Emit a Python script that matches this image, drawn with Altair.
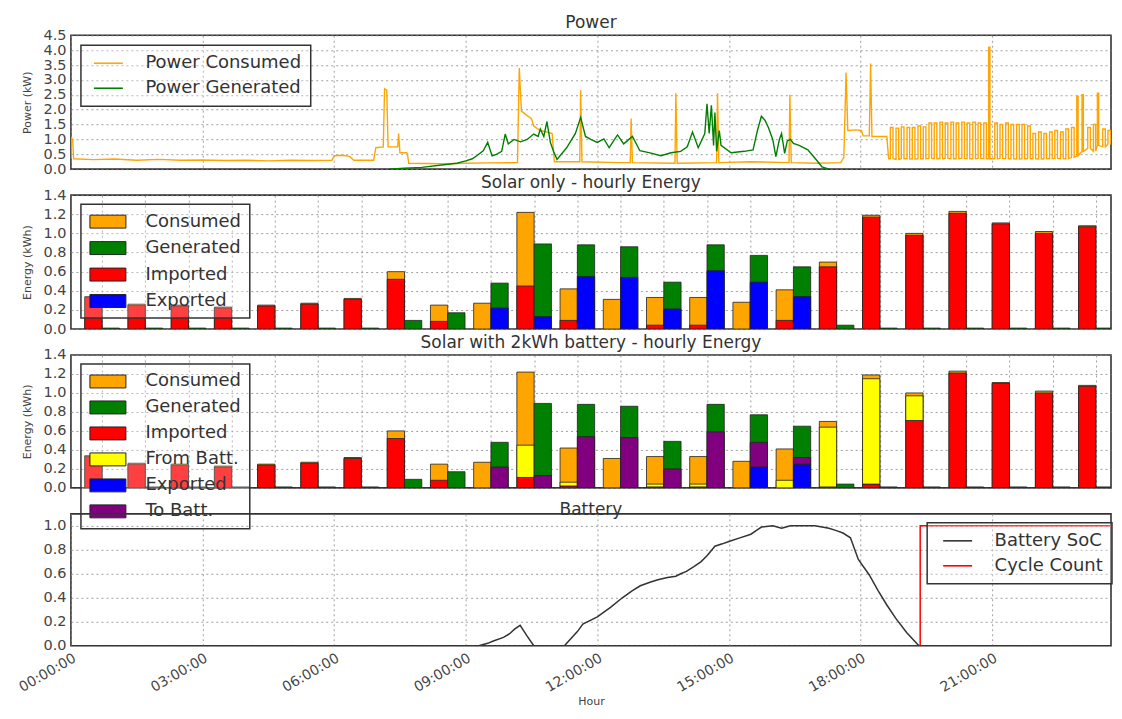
import altair as alt
import pandas as pd

X_MAX = 23.71          # hours shown on the time panels
BAR_DOMAIN = [-0.72, 23.35]
W = 1041

# ---------------- Panel 1 : Power ----------------
cons_t = [0.00, 0.01, 0.04, 0.06, 0.50, 1.00, 1.50, 2.00, 2.50, 3.00, 3.50, 4.00, 4.50, 5.00,
          5.50, 5.95, 6.00, 6.20, 6.35, 6.45, 6.90, 6.95, 7.12, 7.15, 7.20, 7.23, 7.45, 7.47,
          7.50, 7.65, 7.67, 7.70, 8.50, 9.00, 9.50, 10.18, 10.22, 10.27, 10.40, 10.50, 10.55,
          10.70, 10.85, 10.97, 11.02, 11.60, 11.62, 11.65, 12.50, 12.75, 12.77, 12.80, 13.77,
          13.79, 13.82, 14.72, 14.74, 14.77, 15.50, 16.37, 16.39, 16.42, 17.00, 17.55, 17.62,
          17.67, 17.71, 17.90, 18.02, 18.06, 18.20, 18.23, 18.26, 18.60, 18.64]
cons_v = [0.35, 1.05, 1.00, 0.35, 0.32, 0.34, 0.30, 0.33, 0.30, 0.31, 0.29, 0.30, 0.28, 0.30,
          0.29, 0.30, 0.45, 0.47, 0.43, 0.30, 0.30, 0.72, 0.75, 2.70, 2.65, 0.75, 0.75, 1.20,
          0.55, 0.55, 0.52, 0.20, 0.18, 0.20, 0.21, 0.22, 3.40, 1.95, 1.80, 1.70, 1.45,
          1.30, 1.25, 1.20, 0.25, 0.25, 2.65, 0.25, 0.22, 0.22, 1.70, 0.22, 0.20,
          2.55, 0.20, 0.22, 2.55, 0.22, 0.25, 0.22, 2.50, 0.22, 0.20, 0.22, 0.40,
          3.25, 1.30, 1.32, 1.30, 1.12, 1.12, 3.55, 1.10, 1.10, 0.35]

pulse_on = [18.68, 18.81, 18.93, 19.06, 19.18, 19.31, 19.43, 19.56, 19.68, 19.81, 19.93, 20.06,
            20.18, 20.31, 20.43, 20.56, 20.68, 20.81, 20.92, 21.06, 21.18, 21.31, 21.43, 21.56,
            21.68, 21.81, 21.93, 22.06, 22.18, 22.31, 22.43, 22.56, 22.68, 22.81, 22.93, 23.05,
            23.18, 23.31, 23.40, 23.52, 23.64, 23.76]
pulse_off = [18.74, 18.87, 18.99, 19.12, 19.24, 19.37, 19.49, 19.62, 19.74, 19.87, 19.99, 20.12,
             20.24, 20.37, 20.49, 20.62, 20.74, 20.87, 20.95, 21.12, 21.24, 21.37, 21.49, 21.62,
             21.74, 21.87, 21.99, 22.12, 22.24, 22.37, 22.49, 22.62, 22.74, 22.87, 22.96, 23.08,
             23.24, 23.36, 23.43, 23.58, 23.70, 23.82]
pulse_high = [1.40, 1.38, 1.42, 1.40, 1.40, 1.45, 1.42, 1.55, 1.55, 1.58, 1.55, 1.58,
              1.55, 1.58, 1.55, 1.58, 1.55, 1.55, 4.10, 1.55, 1.50, 1.55, 1.50, 1.50,
              1.50, 1.45, 1.20, 1.25, 1.20, 1.25, 1.30, 1.25, 1.35, 1.40, 2.45, 2.50,
              1.40, 1.50, 2.55, 1.35, 1.30, 1.35]
pulse_low = [0.35, 0.33, 0.35, 0.35, 0.34, 0.35, 0.35, 0.36, 0.35, 0.35, 0.36, 0.35,
             0.35, 0.36, 0.35, 0.35, 0.36, 0.35, 0.35, 0.35, 0.36, 0.35, 0.35, 0.34,
             0.35, 0.35, 0.35, 0.34, 0.35, 0.35, 0.36, 0.35, 0.35, 0.40, 0.45, 0.60,
             0.70, 0.60, 0.80, 0.75, 0.85, 0.80]

gen_t = [7.25, 7.60, 8.00, 8.50, 8.80, 9.00, 9.15, 9.25, 9.40, 9.50, 9.60, 9.70, 9.82, 9.90,
         9.97, 10.10, 10.25, 10.40, 10.55, 10.65, 10.70, 10.78, 10.85, 10.93, 11.00, 11.08,
         11.30, 11.50, 11.62, 11.73, 11.85, 12.00, 12.15, 12.27, 12.46, 12.60, 12.80, 12.97,
         13.20, 13.45, 13.68, 13.90, 14.05, 14.17, 14.30, 14.45, 14.50, 14.55, 14.60, 14.65,
         14.68, 14.72, 14.78, 14.82, 15.05, 15.35, 15.55, 15.65, 15.74, 15.82, 15.90, 16.00,
         16.07, 16.15, 16.20, 16.27, 16.33, 16.40, 16.47, 16.60, 16.80, 17.00, 17.12, 17.28]
gen_v = [0.00, 0.03, 0.06, 0.15, 0.20, 0.28, 0.35, 0.45, 0.62, 0.90, 0.45, 0.50, 0.60, 1.18,
         0.85, 1.00, 0.92, 1.00, 1.18, 1.10, 1.35, 1.10, 1.60, 0.90, 0.60, 0.33,
         0.72, 1.20, 1.74, 1.10, 1.00, 0.90, 1.02, 0.72, 1.15, 0.85, 1.10, 0.62,
         0.55, 0.45, 0.55, 0.60, 0.75, 1.25, 0.72, 1.20, 2.20, 1.20, 2.15, 0.80,
         1.90, 0.60, 1.30, 0.80, 0.55, 0.60, 0.65, 1.30, 1.78, 1.65, 1.40, 0.99,
         0.42, 1.00, 1.20, 0.53, 0.95, 1.00, 0.87, 0.80, 0.65, 0.30, 0.08, 0.00]

p1_series = ["Power Consumed", "Power Generated"]
p1_colors = ["#ffa500", "#008000"]

# ---------------- Panels 2 & 3 : hourly energy ----------------
hours = list(range(24))
consumed = [0.34, 0.26, 0.25, 0.23, 0.25, 0.27, 0.32, 0.60, 0.25, 0.27, 1.22, 0.42,
            0.31, 0.33, 0.33, 0.28, 0.41, 0.70, 1.19, 1.00, 1.23, 1.11, 1.02, 1.08]
generated = [0.01, 0.01, 0.01, 0.01, 0.01, 0.01, 0.01, 0.09, 0.17, 0.48, 0.89, 0.88,
             0.86, 0.49, 0.88, 0.77, 0.65, 0.04, 0.01, 0.01, 0.01, 0.01, 0.01, 0.01]
imported_solar = [0.33, 0.25, 0.24, 0.22, 0.24, 0.26, 0.31, 0.52, 0.08, 0.00, 0.45, 0.09,
                  0.00, 0.04, 0.04, 0.00, 0.09, 0.65, 1.17, 0.98, 1.21, 1.10, 1.00, 1.07]
exported_solar = [0, 0, 0, 0, 0, 0, 0, 0, 0, 0.22, 0.13, 0.55,
                  0.54, 0.21, 0.61, 0.49, 0.34, 0, 0, 0, 0, 0, 0, 0]

imported_batt = [0.33, 0.25, 0.24, 0.22, 0.24, 0.26, 0.31, 0.52, 0.08, 0.00, 0.11, 0.02,
                 0.00, 0.01, 0.01, 0.00, 0.00, 0.01, 0.04, 0.71, 1.21, 1.10, 1.00, 1.07]
from_batt = [0, 0, 0, 0, 0, 0, 0, 0, 0, 0, 0.34, 0.04,
             0, 0.03, 0.03, 0, 0.08, 0.63, 1.11, 0.26, 0, 0, 0, 0]
exported_batt = [0, 0, 0, 0, 0, 0, 0, 0, 0, 0, 0, 0,
                 0, 0, 0, 0.22, 0.25, 0, 0, 0, 0, 0, 0, 0]
to_batt = [0, 0, 0, 0, 0, 0, 0, 0, 0, 0.22, 0.13, 0.54,
           0.53, 0.20, 0.59, 0.26, 0.07, 0, 0, 0, 0, 0, 0, 0]

p2_series = ["Consumed", "Generated", "Imported", "Exported"]
p2_colors = ["#ffa500", "#008000", "#ff0000", "#0000ff"]
p3_series = ["Consumed", "Generated", "Imported", "From Batt.", "Exported", "To Batt."]
p3_colors = ["#ffa500", "#008000", "#ff0000", "#ffff00", "#0000ff", "#800080"]

# ---------------- Panel 4 : battery ----------------
soc_t = [0.00, 9.30, 9.50, 9.63, 9.86, 10.00, 10.12, 10.24, 10.40, 10.55, 11.25, 11.40, 11.55,
         11.67, 12.00, 12.30, 12.57, 12.80, 12.98, 13.20, 13.38, 13.60, 13.79, 13.90, 14.03,
         14.20, 14.36, 14.50, 14.68, 14.85, 15.00, 15.25, 15.50, 15.62, 15.74, 16.00, 16.20,
         16.30, 16.40, 16.96, 17.28, 17.45, 17.60, 17.77, 17.95, 18.20, 18.40, 18.60, 18.80,
         19.05, 19.33, 23.85]
soc_v = [0.00, 0.00, 0.02, 0.04, 0.07, 0.10, 0.14, 0.17, 0.08, 0.00, 0.00, 0.06, 0.12,
         0.18, 0.24, 0.32, 0.40, 0.46, 0.50, 0.53, 0.55, 0.57, 0.58, 0.60, 0.62,
         0.66, 0.70, 0.75, 0.83, 0.85, 0.87, 0.90, 0.93, 0.96, 0.99, 1.00, 0.98,
         0.99, 1.00, 1.00, 0.98, 0.96, 0.94, 0.90, 0.72, 0.59, 0.46, 0.34, 0.23,
         0.11, 0.00, 0.00]
cyc_t = [19.36, 19.36, 23.85]
cyc_v = [0.00, 1.00, 1.00]
p4_series = ["Battery SoC", "Cycle Count"]
p4_colors = ["#333333", "#ff0000"]

# ---------------- build tables ----------------
rows = []
k = 0
for t, v in zip(cons_t, cons_v):
    rows.append({"hour": t, "kw": v, "series": "Power Consumed", "i": k}); k += 1
for on, off, hi, lo in zip(pulse_on, pulse_off, pulse_high, pulse_low):
    for t, v in ((on, lo), (on, hi), (off, hi), (off, lo)):
        rows.append({"hour": t, "kw": v, "series": "Power Consumed", "i": k}); k += 1
for t, v in zip(gen_t, gen_v):
    rows.append({"hour": t, "kw": v, "series": "Power Generated", "i": k}); k += 1
df1 = pd.DataFrame(rows)


def bars(spec):
    out = []
    for name, side, lo_list, hi_list in spec:
        for h in hours:
            lo = lo_list[h] if lo_list is not None else 0.0
            hi = lo + hi_list[h]
            if hi_list[h] <= 0:
                continue
            x1 = h - 0.4 if side == 0 else h
            out.append({"x1": x1, "x2": x1 + 0.4, "y1": lo, "y2": hi, "series": name})
    return pd.DataFrame(out)


df2 = bars([
    ("Consumed", 0, None, consumed),
    ("Imported", 0, None, imported_solar),
    ("Generated", 1, None, generated),
    ("Exported", 1, None, exported_solar),
])
df3 = bars([
    ("Consumed", 0, None, consumed),
    ("Imported", 0, None, imported_batt),
    ("From Batt.", 0, imported_batt, from_batt),
    ("Generated", 1, None, generated),
    ("Exported", 1, None, exported_batt),
    ("To Batt.", 1, exported_batt, to_batt),
])

rows = []
k = 0
for t, v in zip(soc_t, soc_v):
    rows.append({"hour": t, "v": v, "series": "Battery SoC", "i": k}); k += 1
for t, v in zip(cyc_t, cyc_v):
    rows.append({"hour": t, "v": v, "series": "Cycle Count", "i": k}); k += 1
df4 = pd.DataFrame(rows)

# ---------------- shared pieces ----------------
three_hours = [0, 3, 6, 9, 12, 15, 18, 21]
x_time = alt.Scale(domain=[0, X_MAX], nice=False, zero=False)
x_bar = alt.Scale(domain=BAR_DOMAIN, nice=False, zero=False)
hidden_time_axis = alt.Axis(values=three_hours, labels=False, title=None, grid=True)
hidden_bar_axis = alt.Axis(values=hours, labels=False, title=None, grid=True)
energy_ticks = [0.0, 0.2, 0.4, 0.6, 0.8, 1.0, 1.2, 1.4]
TITLE_OFFSET = -5


def line_legend(x, y, so, lo):
    return alt.Legend(title=None, orient="none", legendX=x, legendY=y,
                      symbolType="M-2,0H2", symbolSize=210, symbolStrokeWidth=1.6,
                      symbolOffset=so, labelOffset=lo, rowPadding=7, padding=9)


def bar_legend(y, rp):
    return alt.Legend(title=None, orient="none", legendX=10, legendY=y,
                      symbolType="M-2,-0.72H2V0.72H-2Z", symbolSize=324,
                      symbolStrokeColor="#222222", symbolStrokeWidth=1, symbolOpacity=1,
                      symbolOffset=9.5, labelOffset=28, rowPadding=rp, padding=8)


def ttl(text):
    return alt.Title(text, offset=TITLE_OFFSET)


p1 = alt.Chart(df1, title=ttl("Power")).mark_line(strokeWidth=1.4, clip=True).encode(
    x=alt.X("hour:Q", scale=x_time, axis=hidden_time_axis),
    y=alt.Y("kw:Q", scale=alt.Scale(domain=[0, 4.5], nice=False),
            axis=alt.Axis(values=[0.0, 0.5, 1.0, 1.5, 2.0, 2.5, 3.0, 3.5, 4.0, 4.5],
                          format=".1f", title="Power (kW)", titlePadding=10)),
    color=alt.Color("series:N", scale=alt.Scale(domain=p1_series, range=p1_colors),
                    legend=line_legend(10, 10, 9.5, 28)),
    order="i:Q",
).properties(width=W, height=134)

p2 = alt.Chart(df2, title=ttl("Solar only - hourly Energy")).mark_bar(
    stroke="#222222", strokeWidth=0.8, clip=True).encode(
    x=alt.X("x1:Q", scale=x_bar, axis=hidden_bar_axis),
    x2="x2:Q",
    y=alt.Y("y1:Q", scale=alt.Scale(domain=[0, 1.4], nice=False),
            axis=alt.Axis(values=energy_ticks, format=".1f", title="Energy (kWh)", titlePadding=10)),
    y2="y2:Q",
    color=alt.Color("series:N", scale=alt.Scale(domain=p2_series, range=p2_colors),
                    legend=bar_legend(9, 7.5)),
).properties(width=W, height=134)

p3 = alt.Chart(df3, title=ttl("Solar with 2kWh battery - hourly Energy")).mark_bar(
    stroke="#222222", strokeWidth=0.8, clip=True).encode(
    x=alt.X("x1:Q", scale=x_bar, axis=hidden_bar_axis),
    x2="x2:Q",
    y=alt.Y("y1:Q", scale=alt.Scale(domain=[0, 1.4], nice=False),
            axis=alt.Axis(values=energy_ticks, format=".1f", title="Energy (kWh)", titlePadding=10)),
    y2="y2:Q",
    color=alt.Color("series:N", scale=alt.Scale(domain=p3_series, range=p3_colors),
                    legend=bar_legend(9, 7)),
).properties(width=W, height=133)

p4 = alt.Chart(df4, title=ttl("Battery")).mark_line(strokeWidth=1.5, clip=True).encode(
    x=alt.X("hour:Q", scale=x_time,
            axis=alt.Axis(values=three_hours,
                          labelExpr="(datum.value < 10 ? '0' : '') + datum.value + ':00:00'",
                          labelAngle=-30, labelAlign="right", labelBaseline="top",
                          labelPadding=5, labelFontSize=14, title="Hour", titlePadding=1)),
    y=alt.Y("v:Q", scale=alt.Scale(domain=[0, 1.1], nice=False),
            axis=alt.Axis(values=[0.0, 0.2, 0.4, 0.6, 0.8, 1.0], format=".1f", title=None)),
    color=alt.Color("series:N", scale=alt.Scale(domain=p4_series, range=p4_colors),
                    legend=line_legend(857, 9, 12.5, 28)),
    order="i:Q",
).properties(width=W, height=132)

chart = alt.vconcat(p1, p2, p3, p4, spacing=26, bounds="flush").resolve_scale(
    color="independent"
).properties(
    padding={"left": 7, "top": 5, "right": 0, "bottom": 0}
).configure_view(
    stroke="#333333", strokeWidth=1.6
).configure_axis(
    labelFont="DejaVu Sans", labelFontSize=14.5, labelColor="#444444",
    titleFont="DejaVu Sans", titleFontSize=11, titleFontWeight="normal", titleColor="#444444",
    gridColor="#888888", gridDash=[2, 3], gridWidth=0.8, gridOpacity=1,
    domain=False, ticks=False, labelPadding=5
).configure_title(
    font="DejaVu Sans", fontSize=17, fontWeight="normal", color="#333333",
    anchor="middle", baseline="alphabetic"
).configure_legend(
    labelFont="DejaVu Sans", labelFontSize=18, labelColor="#333333",
    strokeColor="#333333", strokeWidth=1.5, fillColor="rgba(255,255,255,0.25)",
    cornerRadius=0
)

chart.save("out.html", embed_options={"renderer": "svg", "actions": False})
